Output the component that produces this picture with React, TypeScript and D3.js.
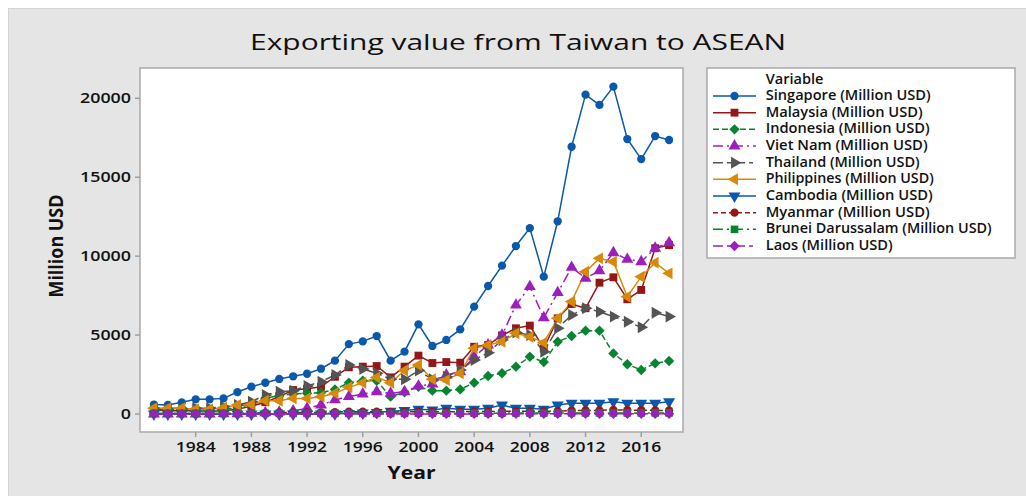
import React from "react";
import * as d3 from "d3";

const years = [1981, 1982, 1983, 1984, 1985, 1986, 1987, 1988, 1989, 1990, 1991, 1992, 1993, 1994, 1995, 1996, 1997, 1998, 1999, 2000, 2001, 2002, 2003, 2004, 2005, 2006, 2007, 2008, 2009, 2010, 2011, 2012, 2013, 2014, 2015, 2016, 2017, 2018];

const singapore = [600, 570, 740, 930, 930, 990, 1390, 1730, 1980, 2220, 2390, 2550, 2870, 3380, 4430, 4600, 4940, 3380, 3950, 5680, 4310, 4690, 5360, 6800, 8110, 9400, 10640, 11780, 8700, 12210, 16930, 20230, 19580, 20740, 17420, 16150, 17610, 17360];
const malaysia = [250, 200, 220, 200, 170, 200, 300, 500, 750, 1100, 1520, 1600, 1730, 2360, 2960, 3000, 3040, 2320, 3000, 3700, 3230, 3290, 3250, 4260, 4370, 4980, 5430, 5600, 4150, 6060, 6970, 6700, 8320, 8660, 7270, 7860, 10500, 10700];
const indonesia = [400, 350, 380, 300, 250, 300, 380, 650, 1000, 1150, 1270, 1310, 1350, 1560, 1980, 2110, 2110, 1100, 1380, 1730, 1480, 1480, 1560, 1980, 2410, 2580, 3000, 3630, 3290, 4580, 4940, 5280, 5280, 3840, 3150, 2790, 3210, 3360];
const vietnam = [0, 0, 0, 0, 0, 10, 20, 50, 80, 120, 200, 360, 570, 900, 1100, 1270, 1410, 1310, 1410, 1770, 1900, 2470, 2680, 3630, 4370, 5000, 6900, 8070, 6100, 7690, 9290, 8600, 9080, 10220, 9800, 9650, 10500, 10850];
const thailand = [300, 280, 300, 360, 360, 460, 570, 780, 1200, 1410, 1480, 1770, 2050, 2470, 3100, 2850, 2580, 2200, 2200, 2750, 2200, 2360, 2790, 3420, 3880, 4690, 5170, 5000, 3950, 5430, 6270, 6700, 6480, 6170, 5850, 5490, 6420, 6170];
const philippines = [360, 360, 360, 300, 300, 400, 570, 600, 840, 840, 990, 990, 1100, 1310, 1690, 1980, 2320, 1980, 2750, 3100, 2200, 2150, 2580, 4160, 4370, 4580, 5110, 4900, 4520, 6060, 7120, 9010, 9860, 9650, 7430, 8700, 9590, 8910];
const cambodia = [0, 0, 0, 0, 0, 0, 0, 0, 0, 0, 0, 0, 5, 10, 30, 60, 100, 180, 220, 300, 250, 360, 300, 300, 360, 570, 360, 360, 300, 570, 680, 680, 680, 780, 680, 680, 680, 780];
const myanmar = [30, 30, 30, 30, 30, 30, 30, 40, 60, 80, 100, 100, 100, 120, 150, 150, 150, 130, 130, 150, 150, 150, 150, 160, 160, 170, 170, 170, 170, 180, 220, 230, 230, 260, 250, 240, 230, 230];
const brunei = [40, 40, 40, 40, 40, 40, 40, 40, 40, 40, 40, 40, 40, 40, 40, 40, 40, 40, 40, 50, 50, 50, 50, 50, 50, 60, 60, 60, 60, 60, 70, 70, 70, 70, 70, 70, 70, 70];
const laos = [0, 0, 0, 0, 0, 0, 0, 0, 0, 0, 0, 0, 0, 0, 5, 5, 5, 5, 5, 5, 5, 5, 5, 5, 5, 5, 10, 10, 10, 10, 10, 10, 10, 10, 10, 10, 10, 10];

const seriesNames = [
  "Singapore (Million USD)",
  "Malaysia (Million USD)",
  "Indonesia (Million USD)",
  "Viet Nam (Million USD)",
  "Thailand (Million USD)",
  "Philippines (Million USD)",
  "Cambodia (Million USD)",
  "Myanmar (Million USD)",
  "Brunei Darussalam (Million USD)",
  "Laos (Million USD)",
];
const seriesValues = [singapore, malaysia, indonesia, vietnam, thailand, philippines, cambodia, myanmar, brunei, laos];

const xTickValues = [1984, 1988, 1992, 1996, 2000, 2004, 2008, 2012, 2016];
const yTickValues = [0, 5000, 10000, 15000, 20000];

const chartTitle = "Exporting value from Taiwan to ASEAN";
const xTitle = "Year";
const yTitle = "Million USD";
const legendTitle = "Variable";

// styles per series
const styles = [
  { color: "#0a58ab", dash: "", sym: "circle", rot: 0, size: 54 },
  { color: "#941717", dash: "", sym: "square", rot: 0, size: 62 },
  { color: "#07842f", dash: "6,3", sym: "diamond", rot: 45, size: 54 },
  { color: "#9c1fbd", dash: "10,4,2,4", sym: "triangle", rot: 0, size: 62 },
  { color: "#545454", dash: "10,4,4,4", sym: "triangle", rot: 90, size: 62 },
  { color: "#d8890a", dash: "", sym: "triangle", rot: -90, size: 62 },
  { color: "#0a58ab", dash: "", sym: "triangle", rot: 180, size: 62 },
  { color: "#941717", dash: "5,3", sym: "circle", rot: 0, size: 54 },
  { color: "#07842f", dash: "10,4,2,4", sym: "square", rot: 0, size: 58 },
  { color: "#9c1fbd", dash: "10,4,4,4", sym: "diamond", rot: 45, size: 54 },
];
const legendWidths = [165, 157, 164, 162, 154, 168, 167, 164, 226, 127];

const symType: Record<string, d3.SymbolType> = {
  circle: d3.symbolCircle,
  square: d3.symbolSquare,
  diamond: d3.symbolSquare,
  triangle: d3.symbolTriangle,
};

const W = 1026;
const H = 496;
const plot = { left: 140, right: 683, top: 68, bottom: 432 };
const FONT = "'Open Sans', 'Noto Sans', sans-serif";

export default function App() {
  const x = d3.scaleLinear().domain([1980, 2019]).range([plot.left, plot.right]);
  const y = d3.scaleLinear().domain([-1140, 21920]).range([plot.bottom, plot.top]);
  const line = d3
    .line<number>()
    .x((_, i) => x(years[i]))
    .y((d) => y(d));

  const symPath = (s: (typeof styles)[number]) => d3.symbol().type(symType[s.sym]).size(s.size)() as string;

  const legX = 707;
  const legY = 68;
  const rowBase = (i: number) => 100 + i * 16.67;

  return (
    <svg width={W} height={H} style={{ position: "absolute", left: 0, top: 0, fontFamily: FONT }}>
      <rect x={0} y={0} width={W} height={H} fill="#ffffff" />
      <rect x={8.5} y={8.5} width={W - 8} height={H - 8} fill="#e5e5e5" stroke="#d4d4d4" />
      <text x={518} y={50} textAnchor="middle" fontSize={21} fontWeight={500} fill="#111" textLength={536} lengthAdjust="spacingAndGlyphs">
        {chartTitle}
      </text>

      {/* plot area */}
      <rect x={plot.left} y={plot.top} width={plot.right - plot.left} height={plot.bottom - plot.top} fill="#ffffff" stroke="#a9a9a9" strokeWidth={1.5} />

      {/* y ticks */}
      {yTickValues.map((t) => (
        <g key={"y" + t}>
          <line x1={plot.left} x2={plot.left - 5} y1={y(t)} y2={y(t)} stroke="#a0a0a0" strokeWidth={1.5} />
          <text x={131} y={y(t) + 5} textAnchor="end" fontSize={14} fontWeight={600} fill="#111" textLength={String(t).length * 10.2} lengthAdjust="spacingAndGlyphs">
            {t}
          </text>
        </g>
      ))}
      {/* x ticks */}
      {xTickValues.map((t) => (
        <g key={"x" + t}>
          <line x1={x(t)} x2={x(t)} y1={plot.bottom} y2={plot.bottom + 5} stroke="#a0a0a0" strokeWidth={1.5} />
          <text x={x(t)} y={452} textAnchor="middle" fontSize={14} fontWeight={600} fill="#111" textLength={40} lengthAdjust="spacingAndGlyphs">
            {t}
          </text>
        </g>
      ))}

      <text x={411.5} y={479} textAnchor="middle" fontSize={18} fontWeight={700} fill="#111" textLength={48} lengthAdjust="spacingAndGlyphs">
        {xTitle}
      </text>
      <g transform="translate(62.5,246) scale(1.3,1) rotate(-90)">
        <text x={0} y={0} textAnchor="middle" fontSize={15} fontWeight={700} fill="#111" textLength={103} lengthAdjust="spacingAndGlyphs">
          {yTitle}
        </text>
      </g>

      {/* series */}
      <g>
        {seriesValues.map((vals, si) => (
          <path key={"l" + si} d={line(vals) as string} fill="none" stroke={styles[si].color} strokeWidth={1.5} strokeDasharray={styles[si].dash || undefined} />
        ))}
        {seriesValues.map((vals, si) => (
          <g key={"m" + si}>
            {vals.map((v, i) => (
              <path
                key={i}
                d={symPath(styles[si])}
                fill={styles[si].color}
                transform={`translate(${x(years[i])},${y(v)}) rotate(${styles[si].rot})`}
              />
            ))}
          </g>
        ))}
      </g>

      {/* legend */}
      <rect x={legX} y={legY} width={308} height={190} fill="#ffffff" stroke="#a9a9a9" strokeWidth={1.5} />
      <text x={765.7} y={83.5} fontSize={13.5} fontWeight={600} fill="#111" textLength={57.7} lengthAdjust="spacingAndGlyphs">
        {legendTitle}
      </text>
      {seriesNames.map((name, i) => (
        <g key={"lg" + i}>
          <line x1={713} x2={756} y1={rowBase(i) - 4} y2={rowBase(i) - 4} stroke={styles[i].color} strokeWidth={1.5} strokeDasharray={styles[i].dash || undefined} />
          <path d={symPath(styles[i])} fill={styles[i].color} transform={`translate(734.5,${rowBase(i) - 4}) rotate(${styles[i].rot})`} />
          <text x={765.7} y={rowBase(i)} fontSize={13.5} fontWeight={600} fill="#111" textLength={legendWidths[i]} lengthAdjust="spacingAndGlyphs">
            {name}
          </text>
        </g>
      ))}
    </svg>
  );
}
